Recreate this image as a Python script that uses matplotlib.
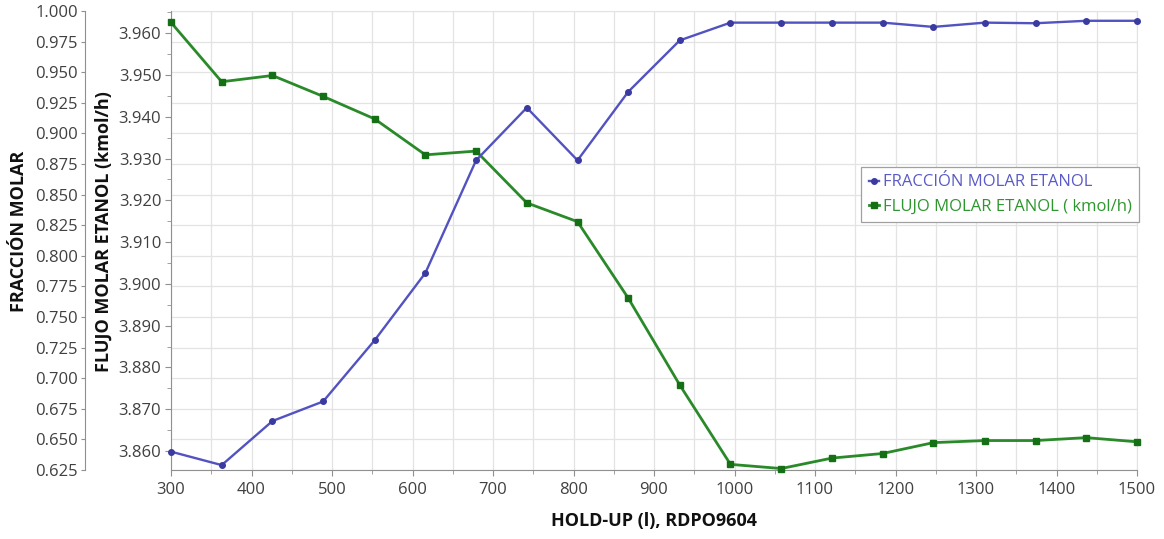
import matplotlib
matplotlib.use("Agg")
import matplotlib.pyplot as plt
from matplotlib.ticker import MultipleLocator, FormatStrFormatter

plt.rcParams['font.family'] = ['Open Sans', 'DejaVu Sans']

# Data
holdup = [300, 363, 426, 489, 553, 616, 679, 742, 805, 868,
          932, 995, 1058, 1121, 1184, 1247, 1311, 1374, 1437, 1500]
fraccion = [0.640, 0.629, 0.665, 0.681, 0.731, 0.786, 0.878, 0.921, 0.878, 0.934,
            0.976, 0.9905, 0.9905, 0.9905, 0.9905, 0.987, 0.9905, 0.990, 0.992, 0.992]
flujo = [3.9626, 3.9484, 3.9499, 3.9449, 3.9395, 3.9309, 3.9318, 3.9194, 3.9149, 3.8966,
         3.8758, 3.8568, 3.8558, 3.8583, 3.8594, 3.8620, 3.8625, 3.8625, 3.8632, 3.8622]

label_frac = "FRACCIÓN MOLAR ETANOL"
label_flujo = "FLUJO MOLAR ETANOL ( kmol/h)"

W, H = 1164, 539
fig = plt.figure(figsize=(W / 100, H / 100), dpi=100)
L, R, T, B = 171, 1137, 11, 470
ax = fig.add_axes([L / W, 1 - B / H, (R - L) / W, (B - T) / H])

tick_col = '#404040'
grid_col = '#e3e3e3'

# fraction axis (outer left) + grid
ax.set_xlim(300, 1500)
ax.set_ylim(0.625, 1.0)
ax.xaxis.set_major_locator(MultipleLocator(100))
ax.xaxis.set_minor_locator(MultipleLocator(50))
ax.yaxis.set_major_locator(MultipleLocator(0.025))
ax.yaxis.set_major_formatter(FormatStrFormatter('%.3f'))
ax.spines['left'].set_position(('outward', (L - 85) * 0.72))
ax.spines['left'].set_color('#909090')
ax.spines['bottom'].set_color('#909090')
for s in ('top', 'right'):
    ax.spines[s].set_color(grid_col)
ax.grid(True, axis='x', which='both', color=grid_col, lw=0.9)
ax.grid(True, axis='y', which='major', color=grid_col, lw=0.9)
ax.set_axisbelow(True)
ax.tick_params(axis='both', which='major', labelsize=12, colors='#909090', labelcolor=tick_col, length=4)
ax.tick_params(axis='x', which='minor', length=3, colors='#909090')
ax.tick_params(axis='x', which='major', pad=5)
ax.tick_params(axis='y', which='major', pad=2, length=3)
ax.set_xlabel("HOLD-UP (l), RDPO9604", fontsize=13, fontweight='bold', color='#111111')
ax.xaxis.set_label_coords(0.5, -(512 - B) / (B - T))
ax.set_ylabel("FRACCIÓN MOLAR", fontsize=13, fontweight='bold', color='#111111')
ax.yaxis.set_label_coords((28 - L) / (R - L), 0.52)

# flow axis (inner left)
axf = ax.twinx()
axf.set_ylim(3.85545, 3.96534)
axf.yaxis.tick_left()
axf.yaxis.set_label_position('left')
axf.yaxis.set_major_locator(MultipleLocator(0.010))
axf.yaxis.set_minor_locator(MultipleLocator(0.005))
axf.yaxis.set_major_formatter(FormatStrFormatter('%.3f'))
axf.spines['left'].set_visible(True)
axf.spines['left'].set_color('#909090')
axf.spines['right'].set_visible(False)
axf.spines['top'].set_visible(False)
axf.spines['bottom'].set_visible(False)
axf.tick_params(axis='y', which='major', labelsize=12, colors='#909090', labelcolor=tick_col, length=4, pad=3)
axf.tick_params(axis='y', which='minor', length=3, colors='#909090')
axf.set_ylabel("FLUJO MOLAR ETANOL (kmol/h)", fontsize=13, fontweight='bold', color='#111111')
axf.yaxis.set_label_coords((113 - L) / (R - L), 0.52)
lf, = axf.plot(holdup, flujo, color='#2a8a2a', lw=2.0, marker='s', ms=4.5,
               mfc='#157015', mec='#157015', label=label_flujo, clip_on=False, zorder=3)

# fraction line on top
axb = ax.twinx()
axb.set_ylim(0.625, 1.0)
axb.axis('off')
lb, = axb.plot(holdup, fraccion, color='#5252c0', lw=1.7, marker='o', ms=4,
               mfc='#3a3aa0', mec='#3a3aa0', label=label_frac, clip_on=False, zorder=4)

leg = axb.legend(handles=[lb, lf], loc='upper left', bbox_to_anchor=(861 / W, 1 - 167 / H),
                 bbox_transform=fig.transFigure, borderaxespad=0, fontsize=12,
                 frameon=True, fancybox=False, edgecolor='#a0a0a0', framealpha=1,
                 handlelength=0.6, handletextpad=0.25, labelspacing=0.5,
                 borderpad=0.45, labelcolor=['#5a5ac8', '#2e962e'])
leg.get_frame().set_linewidth(0.9)

fig.savefig("out.png", dpi=100)
